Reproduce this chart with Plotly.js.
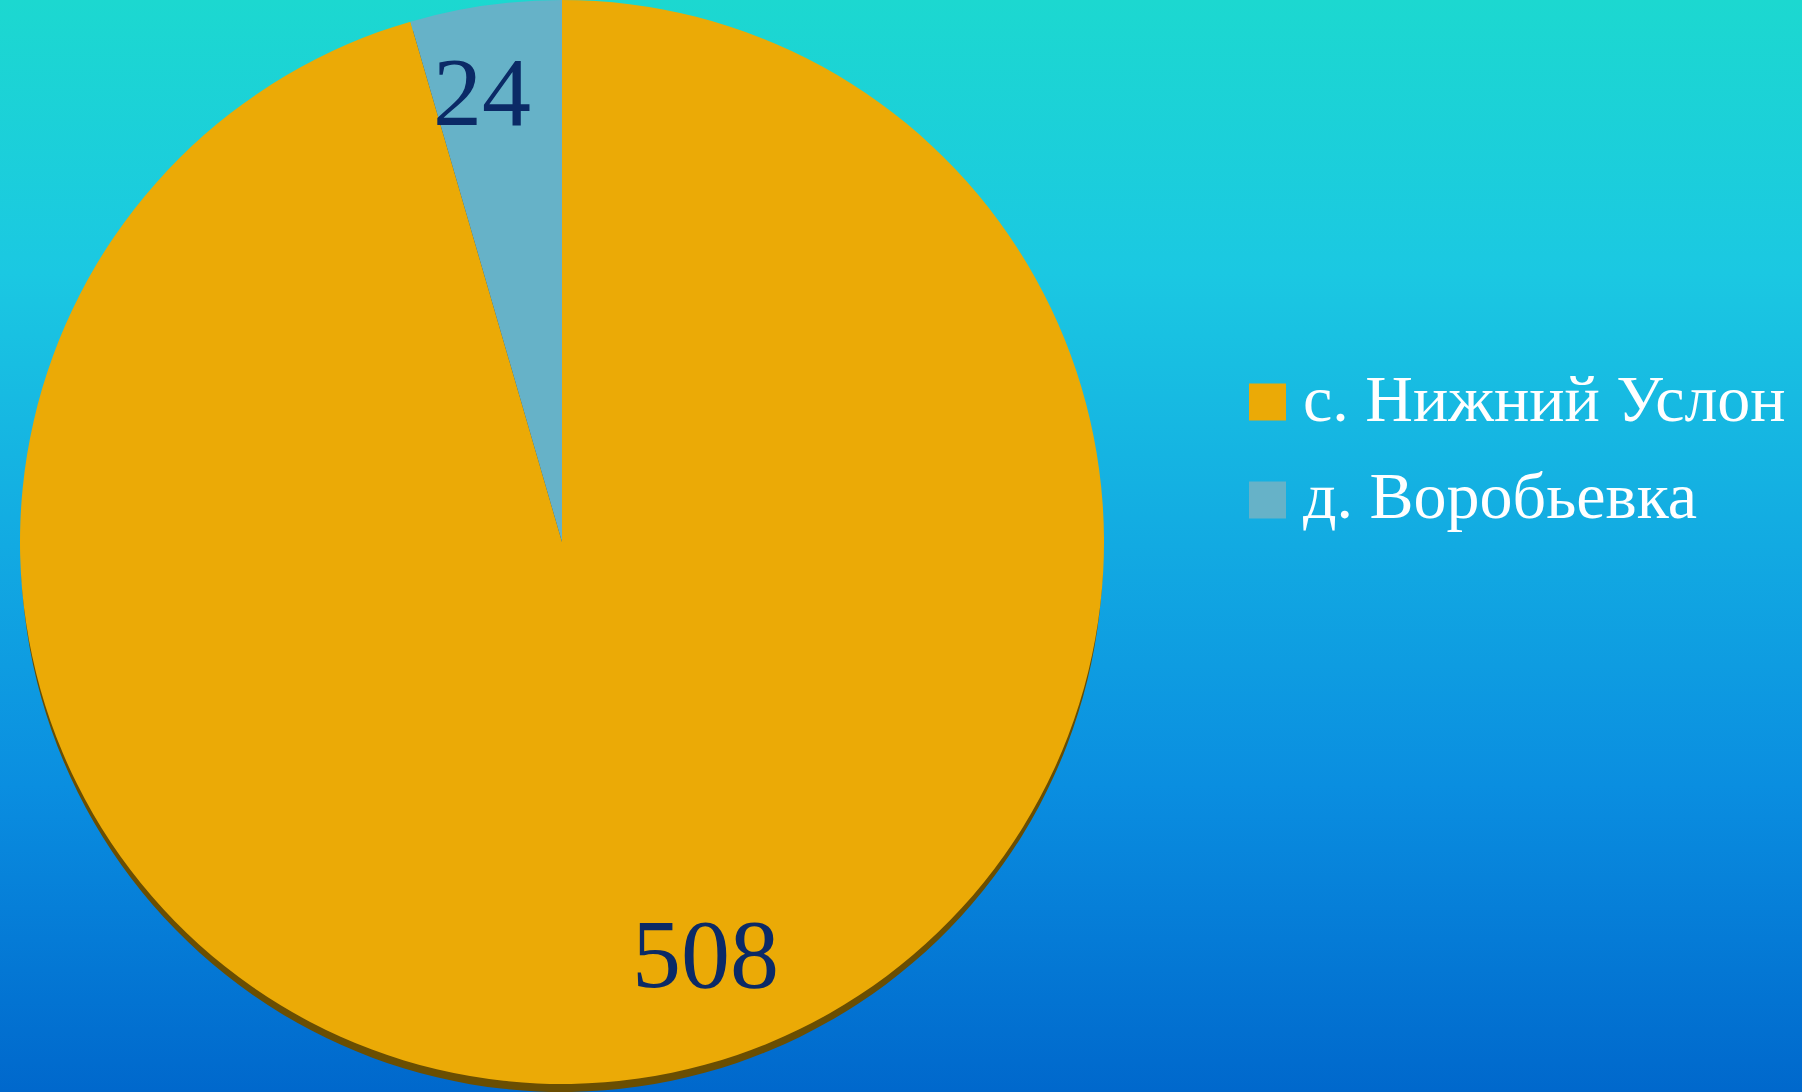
<!DOCTYPE html>
<html>
<head>
<meta charset="utf-8">
<script src="https://cdn.plot.ly/plotly-3.0.1.min.js"></script>
<style>
html,body{margin:0;padding:0;width:1802px;height:1092px;overflow:hidden;
background:linear-gradient(to bottom,#1cd8d0 0%,#1bc8e2 25%,#12aae2 50%,#0a8ee0 72%,#0068cc 100%);}
#chart{width:1802px;height:1092px;}
</style>
</head>
<body>
<div id="chart"></div>
<script>
const labels = ["с. Нижний Услон", "д. Воробьевка"];
const values = [508, 24];
const colors = ["#ebaa06", "#66b2c8"];

// layout settings (not data)
const W = 1802, H = 1092;
const cx = 562, R = 542, cy = 542, shadowOff = 10;
const labelNudgeDeg = [-11.5, -1.7];
const labelRadius = [0.79, 0.86];
const serif = "Liberation Serif, Times New Roman, serif";

const shadow = {
  type: "pie", values: values, labels: labels, sort: false, direction: "clockwise",
  marker: {colors: ["#6a4e02", "#6a4e02"], line: {width: 0}},
  textinfo: "none", hoverinfo: "skip", showlegend: false,
  domain: {x: [(cx - R) / W, (cx + R) / W], y: [Math.max(0, 1 - (cy + shadowOff + R) / H), Math.min(1, 1 - (cy + shadowOff - R) / H)]}
};
const main = {
  type: "pie", values: values, labels: labels, sort: false, direction: "clockwise",
  marker: {colors: colors, line: {width: 0}},
  textinfo: "none", showlegend: false,
  domain: {x: [(cx - R) / W, (cx + R) / W], y: [Math.max(0, 1 - (cy + R) / H), Math.min(1, 1 - (cy - R) / H)]}
};

const shapes = [], annotations = [];
// value labels, placed from each slice's angle
const total = values.reduce((a, b) => a + b, 0);
let acc = 0;
values.forEach((v, i) => {
  const mid = (acc + v / 2) / total * 360 + labelNudgeDeg[i];
  acc += v;
  const rad = mid * Math.PI / 180;
  const px = cx + labelRadius[i] * R * Math.sin(rad);
  const py = cy - labelRadius[i] * R * Math.cos(rad) + 9;
  annotations.push({xref: "paper", yref: "paper", x: px / W, y: 1 - py / H,
    xanchor: "center", yanchor: "middle", showarrow: false, text: String(v),
    font: {family: serif, size: 98, color: "#0b2a66"}});
});

// legend
const rowsY = [402, 500];
labels.forEach((lab, i) => {
  const y = rowsY[i];
  shapes.push({type: "rect", xref: "paper", yref: "paper",
    x0: 1249 / W, x1: 1286 / W, y0: 1 - (y + 18.5) / H, y1: 1 - (y - 18.5) / H,
    fillcolor: colors[i], line: {width: 0}});
  annotations.push({xref: "paper", yref: "paper", x: 1301 / W, y: 1 - (y - 4) / H,
    xanchor: "left", yanchor: "middle", showarrow: false, text: lab,
    font: {family: serif, size: 66, color: "#ffffff"}});
});

Plotly.newPlot("chart", [shadow, main], {
  width: W, height: H, margin: {l: 0, r: 0, t: 0, b: 0},
  paper_bgcolor: "rgba(0,0,0,0)", plot_bgcolor: "rgba(0,0,0,0)",
  shapes: shapes, annotations: annotations, showlegend: false
}, {displayModeBar: false, staticPlot: true});
</script>
</body>
</html>
